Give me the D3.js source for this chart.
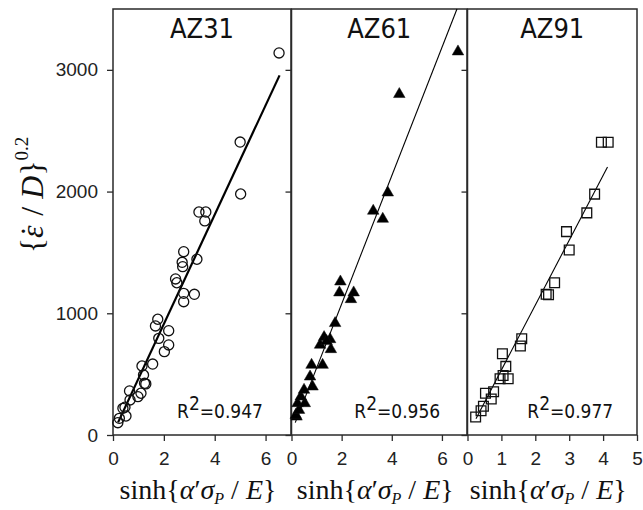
<!DOCTYPE html>
<html>
<head>
<meta charset="utf-8">
<script src="https://cdn.jsdelivr.net/npm/d3@7"></script>
<style>
  body { margin: 0; background: #fff; }
  svg { display: block; }
</style>
</head>
<body>
<svg width="643" height="510"></svg>
<script>
// alloys, one panel each
const alloys = ["AZ31", "AZ61", "AZ91"];
const r2Labels = ["0.947", "0.956", "0.977"];
const xMax = [7, 7, 5];
const yTicks = [0, 1000, 2000, 3000];
const xTicksList = [[0, 2, 4, 6], [0, 2, 4, 6], [0, 1, 2, 3, 4, 5]];

// AZ31 - open circles
const az31X = [0.19, 0.25, 0.47, 0.51, 0.39, 0.65, 0.67, 0.98, 1.1, 1.14, 1.2, 1.24, 1.29, 1.56, 1.67, 1.76, 1.8, 2.02, 2.19, 2.19, 2.46, 2.51, 2.78, 2.72, 2.74, 2.78, 2.78, 3.2, 3.3, 3.38, 3.61, 3.65, 5.0, 5.02, 6.53];
const az31Y = [101, 137, 228, 156, 219, 362, 288, 315, 343, 567, 493, 425, 420, 583, 896, 951, 794, 685, 857, 740, 1282, 1251, 1506, 1419, 1383, 1164, 1095, 1156, 1444, 1832, 1759, 1832, 2407, 1980, 3139];

// AZ61 - filled triangles
const az61X = [0.2, 0.17, 0.3, 0.24, 0.53, 0.37, 0.5, 0.84, 0.74, 0.8, 1.24, 1.57, 1.14, 1.54, 1.3, 1.4, 1.74, 2.37, 2.48, 1.91, 1.95, 3.26, 3.64, 3.84, 4.3, 6.64];
const az61Y = [150, 164, 205, 260, 260, 315, 370, 397, 479, 575, 575, 704, 740, 786, 803, 770, 918, 1115, 1170, 1170, 1260, 1841, 1775, 1991, 2800, 3150];

// AZ91 - open squares
const az91X = [0.24, 0.4, 0.47, 0.53, 0.7, 0.77, 0.96, 1.05, 1.2, 1.13, 1.03, 1.56, 1.6, 2.32, 2.39, 2.57, 3.0, 2.92, 3.52, 3.75, 3.95, 4.15];
const az91Y = [148, 200, 236, 343, 295, 356, 462, 489, 462, 564, 668, 732, 790, 1157, 1152, 1251, 1520, 1671, 1825, 1979, 2405, 2405];

// fitted lines (slope, intercept, x range)
const fitSlope = [449, 527, 533];
const fitIntercept = [14, 23, 1];
const fitFrom = [0.2, 0.15, 0.25];
const fitTo = [6.55, 6.6, 4.13];

const seriesX = [az31X, az61X, az91X];
const seriesY = [az31Y, az61Y, az91Y];

const svg = d3.select("svg");

const plotTop = 9, plotBottom = 435;
const panelLeft = [113, 291.5, 467.5];
const panelRight = [291, 467, 637];

const y = d3.scaleLinear().domain([0, 3500]).range([plotBottom, plotTop]);

const sym = [
  d3.symbol().type(d3.symbolCircle).size(80),
  d3.symbol().type(d3.symbolTriangle).size(58),
  d3.symbol().type(d3.symbolSquare).size(95)
];

alloys.forEach((name, i) => {
  const x = d3.scaleLinear().domain([0, xMax[i]]).range([panelLeft[i], panelRight[i]]);
  const g = svg.append("g");

  // frame
  g.append("rect")
    .attr("x", panelLeft[i]).attr("y", plotTop)
    .attr("width", panelRight[i] - panelLeft[i]).attr("height", plotBottom - plotTop)
    .attr("fill", "none").attr("stroke", "#2a2a2a").attr("stroke-width", 1.5);

  // y axis
  const ya = g.append("g")
    .attr("transform", `translate(${panelLeft[i]},0)`)
    .call(d3.axisLeft(y).tickValues(yTicks).tickSize(6).tickSizeOuter(0).tickPadding(9)
      .tickFormat(i === 0 ? d3.format("d") : () => ""));
  ya.select(".domain").remove();
  ya.selectAll("line").attr("stroke", "#2a2a2a").attr("stroke-width", 1.3);
  ya.selectAll("text").attr("font-family", "Liberation Sans, Arial, sans-serif")
    .attr("font-size", 19).attr("fill", "#222");

  // x axis
  const xa = g.append("g")
    .attr("transform", `translate(0,${plotBottom})`)
    .call(d3.axisBottom(x).tickValues(xTicksList[i]).tickSize(6).tickSizeOuter(0).tickPadding(11)
      .tickFormat(d3.format("d")));
  xa.select(".domain").remove();
  xa.selectAll("line").attr("stroke", "#2a2a2a").attr("stroke-width", 1.3);
  xa.selectAll("text").attr("font-family", "Liberation Sans, Arial, sans-serif")
    .attr("font-size", 19).attr("fill", "#222");

  // fit line
  const fx = [fitFrom[i], fitTo[i]];
  g.append("line")
    .attr("x1", x(fx[0])).attr("y1", y(fitSlope[i] * fx[0] + fitIntercept[i]))
    .attr("x2", x(fx[1])).attr("y2", y(Math.min(3500, fitSlope[i] * fx[1] + fitIntercept[i])))
    .attr("stroke", "#000").attr("stroke-width", i === 0 ? 2.2 : 1.1);

  // points
  const pts = seriesX[i].map((v, k) => [v, seriesY[i][k]]);
  g.selectAll("path.pt")
    .data(pts)
    .join("path")
      .attr("class", "pt")
      .attr("transform", d => `translate(${x(d[0])},${y(d[1])})`)
      .attr("d", sym[i]())
      .attr("fill", i === 1 ? "#000" : "none")
      .attr("stroke", "#111")
      .attr("stroke-width", i === 1 ? 0.5 : 1.3);

  const cx = (panelLeft[i] + panelRight[i]) / 2;

  // panel title
  g.append("text")
    .attr("x", cx).attr("y", 38)
    .attr("text-anchor", "middle")
    .attr("font-family", "DejaVu Sans Condensed, DejaVu Sans, sans-serif")
    .attr("font-size", 27).attr("fill", "#111")
    .text(name);

  // R^2 label
  const r = g.append("text")
    .attr("x", cx + 18).attr("y", 418)
    .attr("text-anchor", "middle")
    .attr("font-family", "DejaVu Sans Condensed, DejaVu Sans, sans-serif")
    .attr("font-size", 19).attr("fill", "#111");
  r.append("tspan").text("R");
  r.append("tspan").attr("dy", -8).text("2");
  r.append("tspan").attr("dy", 8).text("=" + r2Labels[i]);

  // x axis title
  const t = g.append("text")
    .attr("x", cx - 4).attr("y", 499)
    .attr("text-anchor", "middle")
    .attr("font-family", "Liberation Serif, Times New Roman, serif")
    .attr("font-size", 28).attr("fill", "#111");
  t.append("tspan").text("sinh{");
  t.append("tspan").attr("font-style", "italic").text("α");
  t.append("tspan").text("′");
  t.append("tspan").attr("font-style", "italic").text("σ");
  t.append("tspan").attr("font-style", "italic").attr("font-size", 16).attr("dy", 5).text("P");
  t.append("tspan").attr("dy", -5).text(" / ");
  t.append("tspan").attr("font-style", "italic").text("E");
  t.append("tspan").text("}");
});

// y axis title
const yt = svg.append("text")
  .attr("transform", "translate(43,195) rotate(-90)")
  .attr("text-anchor", "middle")
  .attr("font-family", "Liberation Serif, Times New Roman, serif")
  .attr("font-size", 32).attr("fill", "#111");
yt.append("tspan").text("{");
yt.append("tspan").attr("font-style", "italic").text("ε");
yt.append("tspan").attr("dx", -11).text("˙");
yt.append("tspan").attr("dx", 2).text(" / ");
yt.append("tspan").attr("font-style", "italic").text("D");
yt.append("tspan").text("}");
yt.append("tspan").attr("font-size", 19).attr("dy", -15).text("0.2");
</script>
</body>
</html>
